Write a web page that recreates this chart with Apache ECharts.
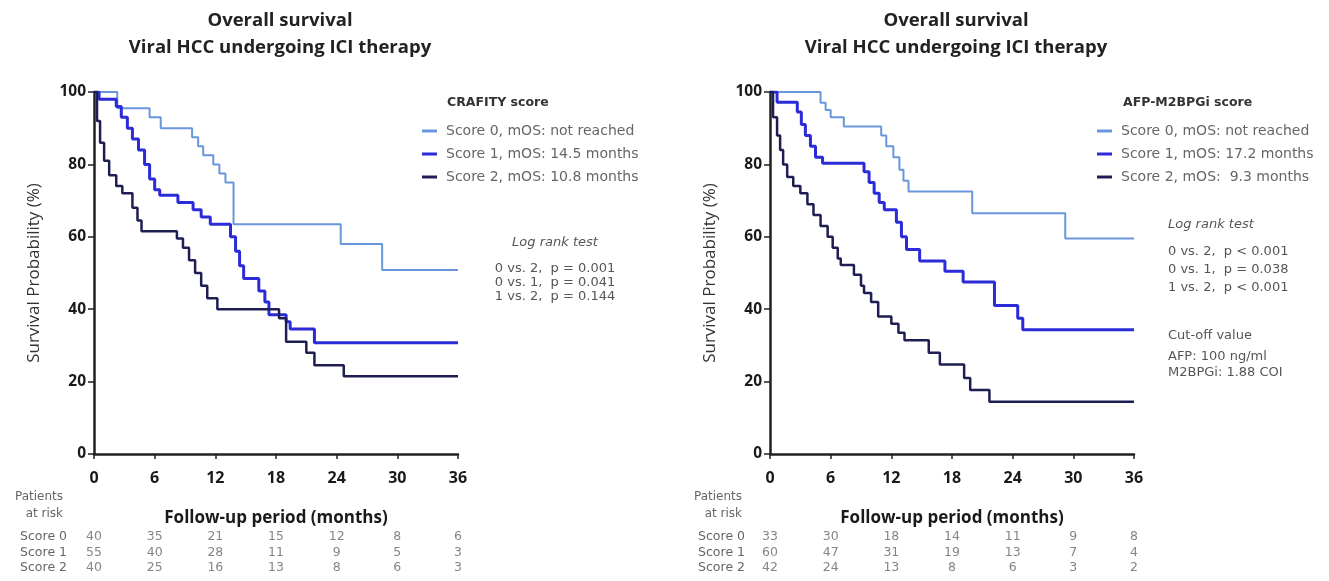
<!DOCTYPE html>
<html>
<head>
<meta charset="utf-8">
<title>Overall survival - Viral HCC undergoing ICI therapy</title>
<script src="https://cdn.jsdelivr.net/npm/echarts@6/dist/echarts.min.js"></script>
<style>
	html, body { margin: 0; padding: 0; background: #fff; }
	#main { width: 1329px; height: 581px; }
</style>
</head>
<body>
<div id="main"></div>
<script>
var months = [0, 6, 12, 18, 24, 30, 36];
var rowNames = ['Score 0', 'Score 1', 'Score 2'];

// CRAFITY score, Kaplan-Meier steps (month, survival %)
var craf0Time = [0, 2.3, 5.5, 6.6, 9.7, 10.3, 10.8, 11.8, 12.4, 13.0, 13.8, 24.4, 28.5, 36];
var craf0Surv = [100, 95.5, 93, 90, 87.5, 85, 82.5, 80, 77.5, 75, 63.5, 58, 50.8, 50.8];
var craf1Time = [0, 0.5, 2.2, 2.7, 3.3, 3.8, 4.4, 5.0, 5.5, 6.0, 6.5, 8.3, 9.8, 10.6, 11.5, 13.5, 14.0, 14.4, 14.8, 16.3, 16.9, 17.3, 19.0, 19.4, 21.8, 36];
var craf1Surv = [100, 98, 96, 93, 90, 87, 84, 80, 76, 73, 71.5, 69.5, 67.5, 65.5, 63.5, 60, 56, 52, 48.5, 45, 42, 38.5, 36.5, 34.5, 30.7, 30.7];
var craf2Time = [0, 0.3, 0.6, 1.0, 1.5, 2.2, 2.8, 3.8, 4.3, 4.7, 8.2, 8.8, 9.4, 10.0, 10.6, 11.2, 12.2, 18.3, 19.0, 21.0, 21.8, 24.7, 36];
var craf2Surv = [100, 92, 86, 81, 77, 74, 72, 68, 64.5, 61.5, 59.5, 57, 53.5, 50, 46.5, 43, 40, 37.5, 31, 28, 24.5, 21.5, 21.5];

// AFP-M2BPGi score
var afp0Time = [0, 5.0, 5.5, 6.0, 7.3, 11.0, 11.5, 12.2, 12.8, 13.2, 13.7, 20.0, 29.2, 36];
var afp0Surv = [100, 97, 95, 93, 90.5, 88, 85, 82, 78.5, 75.5, 72.5, 66.5, 59.5, 59.5];
var afp1Time = [0, 0.7, 2.7, 3.1, 3.5, 4.0, 4.5, 5.2, 9.3, 9.8, 10.3, 10.8, 11.3, 12.5, 13.0, 13.5, 14.8, 17.3, 19.1, 22.2, 24.5, 25.0, 36];
var afp1Surv = [100, 97.2, 94.5, 91, 88, 85, 82, 80.3, 78, 75, 72, 69.5, 67.5, 64, 60, 56.5, 53.3, 50.5, 47.5, 41, 37.5, 34.3, 34.3];
var afp2Time = [0, 0.3, 0.7, 1.0, 1.3, 1.7, 2.3, 3.0, 3.7, 4.3, 5.0, 5.7, 6.2, 6.7, 7.0, 8.3, 9.0, 9.3, 10.0, 10.7, 12.0, 12.7, 13.3, 15.7, 16.8, 19.2, 19.8, 21.7, 36];
var afp2Surv = [100, 93, 88, 84, 80, 76.5, 74, 72, 69, 66, 63, 60, 57, 54, 52.2, 49.5, 46.5, 44.5, 42, 38, 36, 33.5, 31.4, 28, 24.7, 21, 17.7, 14.4, 14.4];

// patients at risk
var crafRisk0 = [40, 35, 21, 15, 12, 8, 6];
var crafRisk1 = [55, 40, 28, 11, 9, 5, 3];
var crafRisk2 = [40, 25, 16, 13, 8, 6, 3];
var afpRisk0 = [33, 30, 18, 14, 11, 9, 8];
var afpRisk1 = [60, 47, 31, 19, 13, 7, 4];
var afpRisk2 = [42, 24, 13, 8, 6, 3, 2];

var crafNames = ['Score 0, mOS: not reached', 'Score 1, mOS: 14.5 months', 'Score 2, mOS: 10.8 months'];
var afpNames = ['Score 0, mOS: not reached ', 'Score 1, mOS: 17.2 months', 'Score 2, mOS:  9.3 months'];

var colors = ['#6897dc', '#2b2bd8', '#1e1e52'];
var widths = [2, 3, 2.5];

var FONT = '"Open Sans", "Liberation Sans", sans-serif';
var SMALL = '"DejaVu Sans", sans-serif';

function kmSeries(name, times, surv, idx, k) {
	var pts = [];
	for (var i = 0; i < times.length; i++) {
		pts.push([times[i], surv[i]]);
	}
	return {
		name: name,
		type: 'line',
		step: 'end',
		xAxisIndex: idx,
		yAxisIndex: idx,
		data: pts,
		symbol: 'none',
		silent: true,
		z: 3 + k,
		lineStyle: { color: colors[k], width: widths[k] },
		itemStyle: { color: colors[k] }
	};
}

function riskSeries(counts, row, idx) {
	var pts = [];
	for (var i = 0; i < months.length; i++) {
		pts.push([months[i], rowNames[row], counts[i]]);
	}
	return {
		type: 'scatter',
		xAxisIndex: idx,
		yAxisIndex: idx,
		data: pts,
		symbolSize: 0,
		silent: true,
		label: {
			show: true,
			position: 'inside',
			formatter: function(p) { return p.value[2]; },
			fontFamily: SMALL,
			fontSize: 12.5,
			color: '#666'
		}
	};
}

function plotX(grid) {
	return {
		gridIndex: grid,
		type: 'value',
		min: 0, max: 36, interval: 6,
		axisLine: { show: true, lineStyle: { color: '#222', width: 2.5 } },
		axisTick: { show: true, length: 5, lineStyle: { color: '#222', width: 1.5 } },
		splitLine: { show: false },
		axisLabel: { fontFamily: FONT, fontWeight: 'bold', fontSize: 16, color: '#1a1a1a', margin: 16 },
		name: 'Follow-up period (months)',
		nameLocation: 'middle',
		nameGap: 56,
		nameTextStyle: { fontFamily: FONT, fontWeight: 'bold', fontSize: 17, color: '#1a1a1a' }
	};
}

function plotY(grid) {
	return {
		gridIndex: grid,
		type: 'value',
		min: 0, max: 100, interval: 20,
		axisLine: { show: true, lineStyle: { color: '#222', width: 2.5 } },
		axisTick: { show: true, length: 6, lineStyle: { color: '#222', width: 1.5 } },
		splitLine: { show: false },
		axisLabel: { fontFamily: FONT, fontWeight: 'bold', fontSize: 15.5, color: '#1a1a1a', margin: 8 },
		name: 'Survival Probability (%)',
		nameLocation: 'middle',
		nameGap: 51,
		nameRotate: 90,
		nameTextStyle: { fontFamily: FONT, fontSize: 17, color: '#333' }
	};
}

function tableX(grid) {
	return { gridIndex: grid, type: 'value', min: 0, max: 36, interval: 6, show: false };
}

function tableY(grid, margin) {
	return {
		gridIndex: grid,
		type: 'category',
		data: rowNames,
		inverse: true,
		axisLine: { show: false },
		axisTick: { show: false },
		axisLabel: { interval: 0, hideOverlap: false, fontFamily: SMALL, fontSize: 12.5, color: '#666', margin: margin }
	};
}

function legendFor(names, left) {
	return {
		data: names,
		left: left,
		top: 118,
		orient: 'vertical',
		icon: 'rect',
		itemGap: 7,
		itemWidth: 15,
		itemHeight: 3,
		selectedMode: false,
		textStyle: { fontFamily: SMALL, fontSize: 14, color: '#666', padding: [0, 0, 0, 4], lineHeight: 16 }
	};
}

function txt(x, y, text, align, font, fill) {
	return {
		type: 'text', x: x, y: y, silent: true,
		style: { text: text, font: font, fill: fill || '#555', align: align, verticalAlign: 'middle' }
	};
}

var chart = echarts.init(document.getElementById('main'));
var option = {
	backgroundColor: '#fff',
	animation: false,
	title: [{
		text: 'Overall survival\nViral HCC undergoing ICI therapy',
		left: 275, top: 2, textAlign: 'center',
		textStyle: { fontFamily: FONT, fontWeight: 'bold', fontSize: 18.5, color: '#222', lineHeight: 27 }
	}, {
		text: 'Overall survival\nViral HCC undergoing ICI therapy',
		left: 951, top: 2, textAlign: 'center',
		textStyle: { fontFamily: FONT, fontWeight: 'bold', fontSize: 18.5, color: '#222', lineHeight: 27 }
	}],
	grid: [
		{ left: 94, top: 92, width: 364, height: 362 },
		{ left: 770, top: 92, width: 364, height: 362 },
		{ left: 94, top: 529, width: 364, height: 47 },
		{ left: 770, top: 529, width: 364, height: 47 }
	],
	xAxis: [plotX(0), plotX(1), tableX(2), tableX(3)],
	yAxis: [plotY(0), plotY(1), tableY(2, 27), tableY(3, 25)],
	legend: [legendFor(crafNames, 417), legendFor(afpNames, 1092)],
	graphic: [
		txt(447, 103, 'CRAFITY score', 'left', 'bold 12.5px ' + SMALL, '#333'),
		txt(555, 243, 'Log rank test', 'center', 'italic 13px ' + SMALL),
		txt(555, 269, '0 vs. 2,  p = 0.001', 'center', '13px ' + SMALL),
		txt(555, 283, '0 vs. 1,  p = 0.041', 'center', '13px ' + SMALL),
		txt(555, 297, '1 vs. 2,  p = 0.144', 'center', '13px ' + SMALL),
		txt(63, 497, 'Patients', 'right', '12px ' + SMALL, '#666'),
		txt(63, 514, 'at risk', 'right', '12px ' + SMALL, '#666'),

		txt(1123, 103, 'AFP-M2BPGi score', 'left', 'bold 12.5px ' + SMALL, '#333'),
		txt(1168, 225, 'Log rank test', 'left', 'italic 13px ' + SMALL),
		txt(1168, 252, '0 vs. 2,  p < 0.001', 'left', '13px ' + SMALL),
		txt(1168, 270, '0 vs. 1,  p = 0.038', 'left', '13px ' + SMALL),
		txt(1168, 288, '1 vs. 2,  p < 0.001', 'left', '13px ' + SMALL),
		txt(1168, 336, 'Cut-off value', 'left', '13px ' + SMALL),
		txt(1168, 357, 'AFP: 100 ng/ml', 'left', '13px ' + SMALL),
		txt(1168, 373, 'M2BPGi: 1.88 COI', 'left', '13px ' + SMALL),
		txt(742, 497, 'Patients', 'right', '12px ' + SMALL, '#666'),
		txt(742, 514, 'at risk', 'right', '12px ' + SMALL, '#666')
	],
	series: [
		kmSeries(crafNames[0], craf0Time, craf0Surv, 0, 0),
		kmSeries(crafNames[1], craf1Time, craf1Surv, 0, 1),
		kmSeries(crafNames[2], craf2Time, craf2Surv, 0, 2),
		kmSeries(afpNames[0], afp0Time, afp0Surv, 1, 0),
		kmSeries(afpNames[1], afp1Time, afp1Surv, 1, 1),
		kmSeries(afpNames[2], afp2Time, afp2Surv, 1, 2),
		riskSeries(crafRisk0, 0, 2),
		riskSeries(crafRisk1, 1, 2),
		riskSeries(crafRisk2, 2, 2),
		riskSeries(afpRisk0, 0, 3),
		riskSeries(afpRisk1, 1, 3),
		riskSeries(afpRisk2, 2, 3)
	]
};
chart.setOption(option);
</script>
</body>
</html>
